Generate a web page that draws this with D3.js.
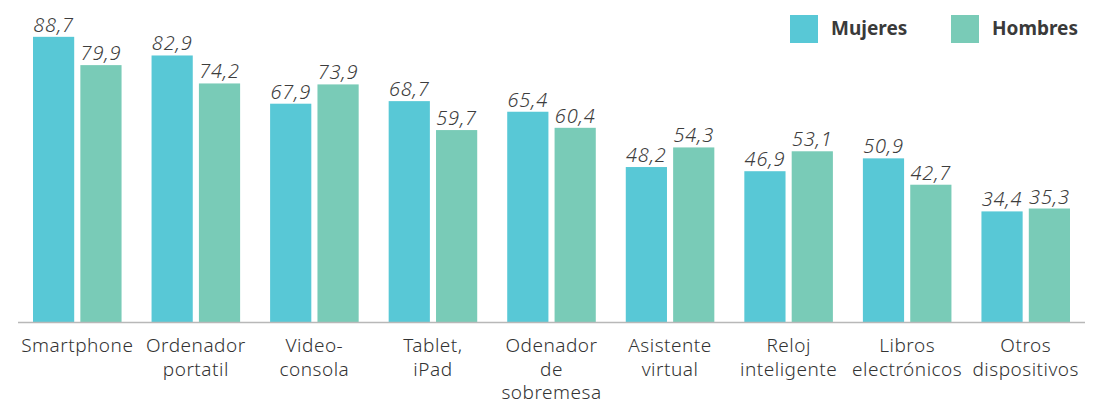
<!DOCTYPE html>
<html>
<head>
<meta charset="utf-8">
<script src="https://cdn.jsdelivr.net/npm/d3@7"></script>
<style>
  html, body { margin: 0; padding: 0; background: #fff; }
  svg { display: block; font-family: "Noto Sans", sans-serif; }
</style>
</head>
<body>
<div id="chart"></div>
<script>
// data
var categories = [
  ['Smartphone'],
  ['Ordenador', 'portatil'],
  ['Video-', 'consola'],
  ['Tablet,', 'iPad'],
  ['Odenador', 'de', 'sobremesa'],
  ['Asistente', 'virtual'],
  ['Reloj', 'inteligente'],
  ['Libros', 'electrónicos'],
  ['Otros', 'dispositivos']
];
var seriesNames = ['Mujeres', 'Hombres'];
var mujeres = [88.7, 82.9, 67.9, 68.7, 65.4, 48.2, 46.9, 50.9, 34.4];
var hombres = [79.9, 74.2, 73.9, 59.7, 60.4, 54.3, 53.1, 42.7, 35.3];
var colors = ['#58c8d6', '#79cbb7'];

var W = 1100, H = 405;
var left = 18, right = 1085, baseY = 322;

var svg = d3.select('#chart').append('svg').attr('width', W).attr('height', H);

var x0 = d3.scaleBand().domain(d3.range(categories.length)).range([left, right]).padding(0);
var x1 = d3.scaleBand().domain([0, 1]).range([15, x0.bandwidth() - 15]).paddingInner(0.13);
var y = d3.scaleLinear().domain([0, 100]).range([baseY, 0.5]);

var fmt = function(v) { return v.toFixed(1).replace('.', ','); };

var series = [mujeres, hombres];
series.forEach(function(vals, s) {
  var g = svg.append('g');
  g.selectAll('rect').data(vals).join('rect')
    .attr('x', function(d, i) { return x0(i) + x1(s); })
    .attr('y', function(d) { return y(d); })
    .attr('width', x1.bandwidth())
    .attr('height', function(d) { return baseY - y(d); })
    .attr('fill', colors[s]);
  g.selectAll('text').data(vals).join('text')
    .attr('x', function(d, i) { return x0(i) + x1(s) + x1.bandwidth() / 2; })
    .attr('y', function(d) { return y(d) - 5; })
    .attr('text-anchor', 'middle')
    .attr('font-size', '20px').attr('font-style', 'italic').attr('font-weight', '300')
    .attr('letter-spacing', '0.8px').attr('fill', '#3d3d3d')
    .text(fmt);
});

// baseline
svg.append('line').attr('x1', left).attr('x2', right).attr('y1', baseY + 0.5).attr('y2', baseY + 0.5)
  .attr('stroke', '#b8b8b8').attr('stroke-width', 1.5);

// category labels
categories.forEach(function(lines, i) {
  var t = svg.append('text').attr('text-anchor', 'middle').attr('font-size', '19px').attr('fill', '#333')
    .attr('font-weight', '300').attr('letter-spacing', '0.5px');
  lines.forEach(function(l, k) {
    t.append('tspan').attr('x', x0(i) + x0.bandwidth() / 2).attr('y', 352 + k * 23.5).text(l);
  });
});

// legend
var legendX = [790, 951];
seriesNames.forEach(function(name, s) {
  svg.append('rect').attr('x', legendX[s]).attr('y', 15).attr('width', 28).attr('height', 28).attr('fill', colors[s]);
  svg.append('text').attr('x', legendX[s] + 41).attr('y', 35).text(name)
    .attr('font-size', '19px').attr('font-weight', '700').attr('fill', '#3a3a3a');
});
</script>
</body>
</html>
